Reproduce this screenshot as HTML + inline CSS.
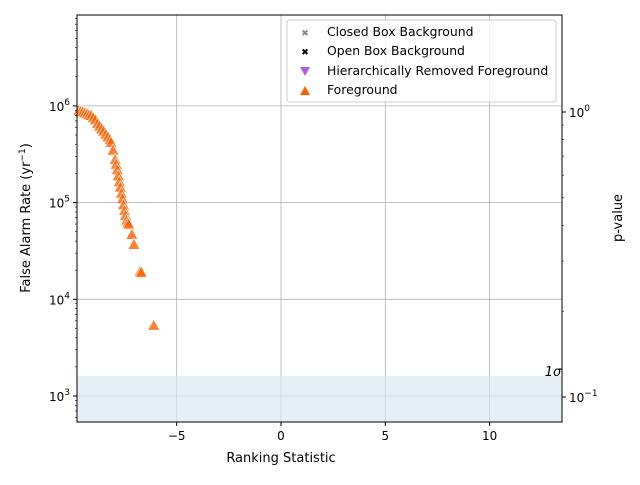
<!DOCTYPE html>
<html><head><meta charset="utf-8"><style>
body{margin:0;background:#fff;}
svg{font-family:"DejaVu Sans","Liberation Sans",sans-serif;}
</style></head><body>
<svg id="chart" width="640" height="480" xmlns="http://www.w3.org/2000/svg">
<rect x="0" y="0" width="640" height="480" fill="#fff"/>
<g id="grid"></g>
<rect x="77" y="376" width="485" height="46" fill="#d5e6f1" opacity="0.65"/>
<text x="553" y="376" font-size="13" text-anchor="middle" font-style="italic">1σ</text>
<g id="marks"></g>
<rect x="77" y="15" width="485" height="407" fill="none" stroke="#000" stroke-width="1"/>
<g id="axes"></g>
<text x="281" y="462" font-size="13" text-anchor="middle">Ranking Statistic</text>
<text transform="translate(30,218) rotate(-90)" font-size="13" text-anchor="middle">False Alarm Rate (yr<tspan dy="-5" font-size="9">−1</tspan><tspan dy="5">)</tspan></text>
<text transform="translate(622,218) rotate(-90)" font-size="13" text-anchor="middle">p-value</text>
<g>
<rect x="287" y="20" width="269" height="82" rx="3" fill="#fff" fill-opacity="0.8" stroke="#ccc"/>
<g><text x="305" y="36" font-size="9" text-anchor="middle" fill="#888">✖</text><text x="327" y="36" font-size="12.4">Closed Box Background</text></g>
<g><text x="305" y="55" font-size="9" text-anchor="middle" fill="#000">✖</text><text x="327" y="55" font-size="12.4">Open Box Background</text></g>
<g><path d="M300,67 L310,67 L305,76 Z" fill="#b05ee8"/><text x="327" y="75" font-size="12.4">Hierarchically Removed Foreground</text></g>
<g><path d="M300,95 L310,95 L305,86 Z" fill="#ff6000"/><text x="327" y="94" font-size="12.4">Foreground</text></g>
</g>
</svg>
<script>
const rankingStat=[-9.7,-9.6,-9.5,-9.4,-9.3,-9.2,-9.1,-9.0,-8.9,-8.8,-8.7,-8.6,-8.5,-8.4,-8.3,-8.2,-8.15,-8.05,-7.95,-7.9,-7.85,-7.8,-7.75,-7.7,-7.65,-7.6,-7.55,-7.5,-7.45,-7.4,-7.35,-7.3,-7.15,-7.05,-6.75,-6.7,-6.1];
const farValues=[9e5,8.8e5,8.7e5,8.5e5,8.3e5,8.1e5,8.0e5,7.6e5,7.2e5,6.6e5,6.2e5,5.8e5,5.5e5,5.1e5,4.8e5,4.5e5,4.2e5,3.5e5,2.8e5,2.5e5,2.2e5,1.9e5,1.65e5,1.45e5,1.25e5,1.1e5,9.5e4,8.3e4,7.4e4,6.6e4,6.2e4,6e4,4.7e4,3.7e4,1.95e4,1.9e4,5.4e3];
const xTicks=[-5,0,5,10];
const yTicks=[3,4,5,6];
const pTicks=[0,-1];
const NS="http://www.w3.org/2000/svg";
const L=77,R=562,T=15,B=422;
function xs(v){return 281+(v)*20.86;}
function ys(v){return 396-(Math.log10(v)-3)*96.7;}
function yp(lp){return 112-lp*285;}
function mk(tag,at,par){const e=document.createElementNS(NS,tag);for(const k in at)e.setAttribute(k,at[k]);par.appendChild(e);return e;}
const grid=document.getElementById('grid'),axes=document.getElementById('axes'),marks=document.getElementById('marks');
xTicks.forEach(t=>{const x=xs(t);
 const g=mk('line',{x1:x,x2:x,y1:T,y2:B,stroke:'#b0b0b0','stroke-width':0.8},grid);
 
 mk('line',{x1:x,x2:x,y1:B,y2:B+4,stroke:'#000'},axes);
 const tx=mk('text',{x:x,y:B+18,'font-size':12,'text-anchor':'middle'},axes);tx.textContent=(t<0?'−'+(-t):t);
 });
yTicks.forEach(d=>{const y=ys(Math.pow(10,d));
 const g=mk('line',{x1:L,x2:R,y1:y,y2:y,stroke:'#b0b0b0','stroke-width':0.8},grid);
 
 mk('line',{x1:L-4,x2:L,y1:y,y2:y,stroke:'#000'},axes);
 const tx=mk('text',{x:L-7,y:y+5,'font-size':12,'text-anchor':'end'},axes);
 tx.innerHTML='10<tspan dy="-6" font-size="9">'+d+'</tspan>';
 });
for(let d=2;d<=6;d++)for(let m=2;m<10;m++){const y=ys(m*Math.pow(10,d));if(y>T&&y<B)mk('line',{x1:L-2,x2:L,y1:y,y2:y,stroke:'#000','stroke-width':0.6},axes);}
pTicks.forEach(p=>{const y=yp(p);
 mk('line',{x1:R,x2:R+4,y1:y,y2:y,stroke:'#000'},axes);
 const tx=mk('text',{x:R+7,y:y+5,'font-size':12},axes);
 tx.innerHTML='10<tspan dy="-6" font-size="9">'+(p<0?'−'+(-p):p)+'</tspan>';
 });
for(let m=2;m<10;m++){const y=yp(Math.log10(m/10));if(y>T&&y<B)mk('line',{x1:R,x2:R+2,y1:y,y2:y,stroke:'#000','stroke-width':0.6},axes);}
rankingStat.forEach((v,i)=>{const x=xs(v),y=ys(farValues[i]);
 const p=mk('path',{d:`M${x-6},${y+5} L${x+6},${y+5} L${x},${y-6} Z`,fill:'#ff6000','fill-opacity':0.8,stroke:'#fff','stroke-width':0.6},marks);
 });
</script>
</body></html>
